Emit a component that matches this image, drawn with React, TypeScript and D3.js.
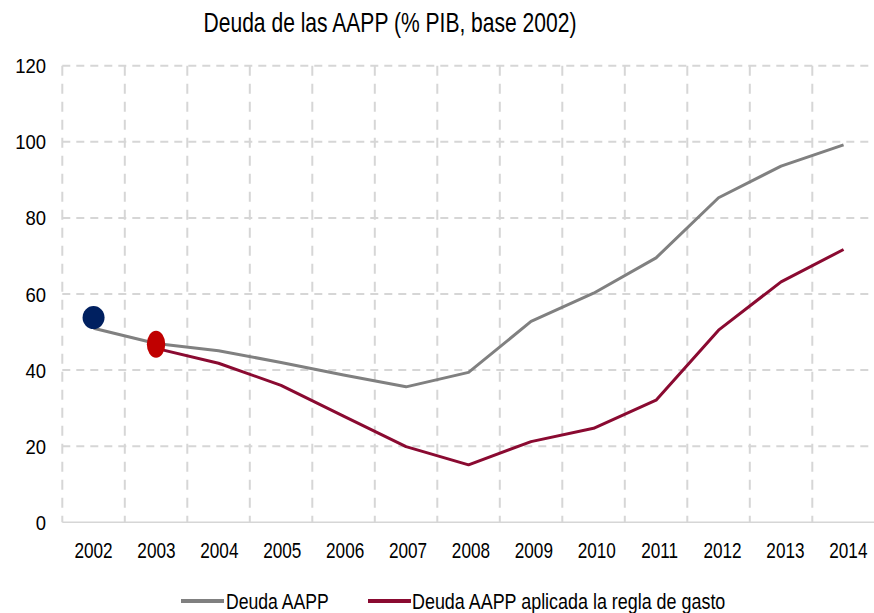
import React from "react";
import * as d3 from "d3";

const years = ["2002","2003","2004","2005","2006","2007","2008","2009","2010","2011","2012","2013","2014"];
const deudaAAPP = [51.0, 47.0, 45.1, 42.0, 38.7, 35.6, 39.4, 52.8, 60.2, 69.5, 85.3, 93.6, 99.2];
const deudaRegla: (number | null)[] = [null, 45.7, 41.8, 36.0, 27.9, 19.9, 15.1, 21.2, 24.7, 32.1, 50.5, 63.2, 71.7];
const yTicks = [0, 20, 40, 60, 80, 100, 120];
const markerBlue = { year: "2002", value: 53.8 };
const markerRed = { year: "2003", value: 46.8 };
const title = "Deuda de las AAPP (% PIB, base 2002)";
const legendLabels = ["Deuda AAPP", "Deuda AAPP aplicada la regla de gasto"];

const FONT = "'Liberation Sans', Arial, sans-serif";

function NText(props: { x: number; y: number; size: number; sx: number; anchor?: "start" | "middle" | "end"; children: React.ReactNode }) {
  const { x, y, size, sx, anchor = "start", children } = props;
  return (
    <text transform={`translate(${x},${y}) scale(${sx},1)`} x={0} y={0} textAnchor={anchor}
      fontFamily={FONT} fontSize={size} fill="#000">{children}</text>
  );
}

export default function App() {
  const W = 874, H = 613;
  const left = 62.3, right = 874.8, top = 65.7, bottom = 522.3;
  const x = d3.scaleBand<string>().domain(years).range([left, right]).padding(0);
  const cx = (yr: string) => (x(yr) as number) + x.bandwidth() / 2;
  const y = d3.scaleLinear().domain([0, 120]).range([bottom, top]);

  const lineGen = d3.line<number | null>()
    .defined((d) => d !== null)
    .x((_, i) => cx(years[i]))
    .y((d) => y(d as number));

  const gridColor = "#d6d6d6";
  const gray = "#808080";
  const maroon = "#8a0a31";

  return (
    <svg width={W} height={H} style={{ position: "absolute", left: 0, top: 0, display: "block", background: "#fff" }}>
      <NText x={390} y={32} size={27} sx={0.78} anchor="middle">{title}</NText>
      {/* horizontal grid */}
      {yTicks.filter((t) => t > 0).map((t) => (
        <line key={"h" + t} x1={left} x2={870} y1={y(t)} y2={y(t)} stroke={gridColor} strokeWidth={2} strokeDasharray="8,6" />
      ))}
      {/* vertical grid */}
      {years.map((yr) => (
        <line key={"v" + yr} x1={x(yr) as number} x2={x(yr) as number} y1={top} y2={bottom} stroke={gridColor} strokeWidth={2} strokeDasharray="10,8" />
      ))}
      <line x1={left} x2={874} y1={y(0)} y2={y(0)} stroke={gridColor} strokeWidth={1.5} />
      {/* y labels */}
      {yTicks.map((t) => (
        <NText key={"yl" + t} x={46} y={y(t) + 7.5} size={21} sx={0.88} anchor="end">{t}</NText>
      ))}
      {/* x labels */}
      {years.map((yr, i) => (
        <NText key={"xl" + yr} x={cx(yr) + i * 0.4} y={558} size={22} sx={0.78} anchor="middle">{yr}</NText>
      ))}
      {/* lines */}
      <path d={lineGen(deudaAAPP) || ""} fill="none" stroke={gray} strokeWidth={3} strokeLinejoin="round" />
      <path d={lineGen(deudaRegla) || ""} fill="none" stroke={maroon} strokeWidth={3} strokeLinejoin="round" />
      {/* markers */}
      <ellipse cx={cx(markerBlue.year)} cy={y(markerBlue.value)} rx={11} ry={11.5} fill="#002060" />
      <ellipse cx={cx(markerRed.year)} cy={y(markerRed.value)} rx={9.2} ry={13.5} fill="#c00000" />
      {/* legend */}
      <line x1={181} x2={224} y1={601} y2={601} stroke={gray} strokeWidth={4} />
      <NText x={226} y={609} size={22} sx={0.8}>{legendLabels[0]}</NText>
      <line x1={368} x2={411} y1={601} y2={601} stroke={maroon} strokeWidth={4} />
      <NText x={412} y={609} size={22} sx={0.815}>{legendLabels[1]}</NText>
    </svg>
  );
}
